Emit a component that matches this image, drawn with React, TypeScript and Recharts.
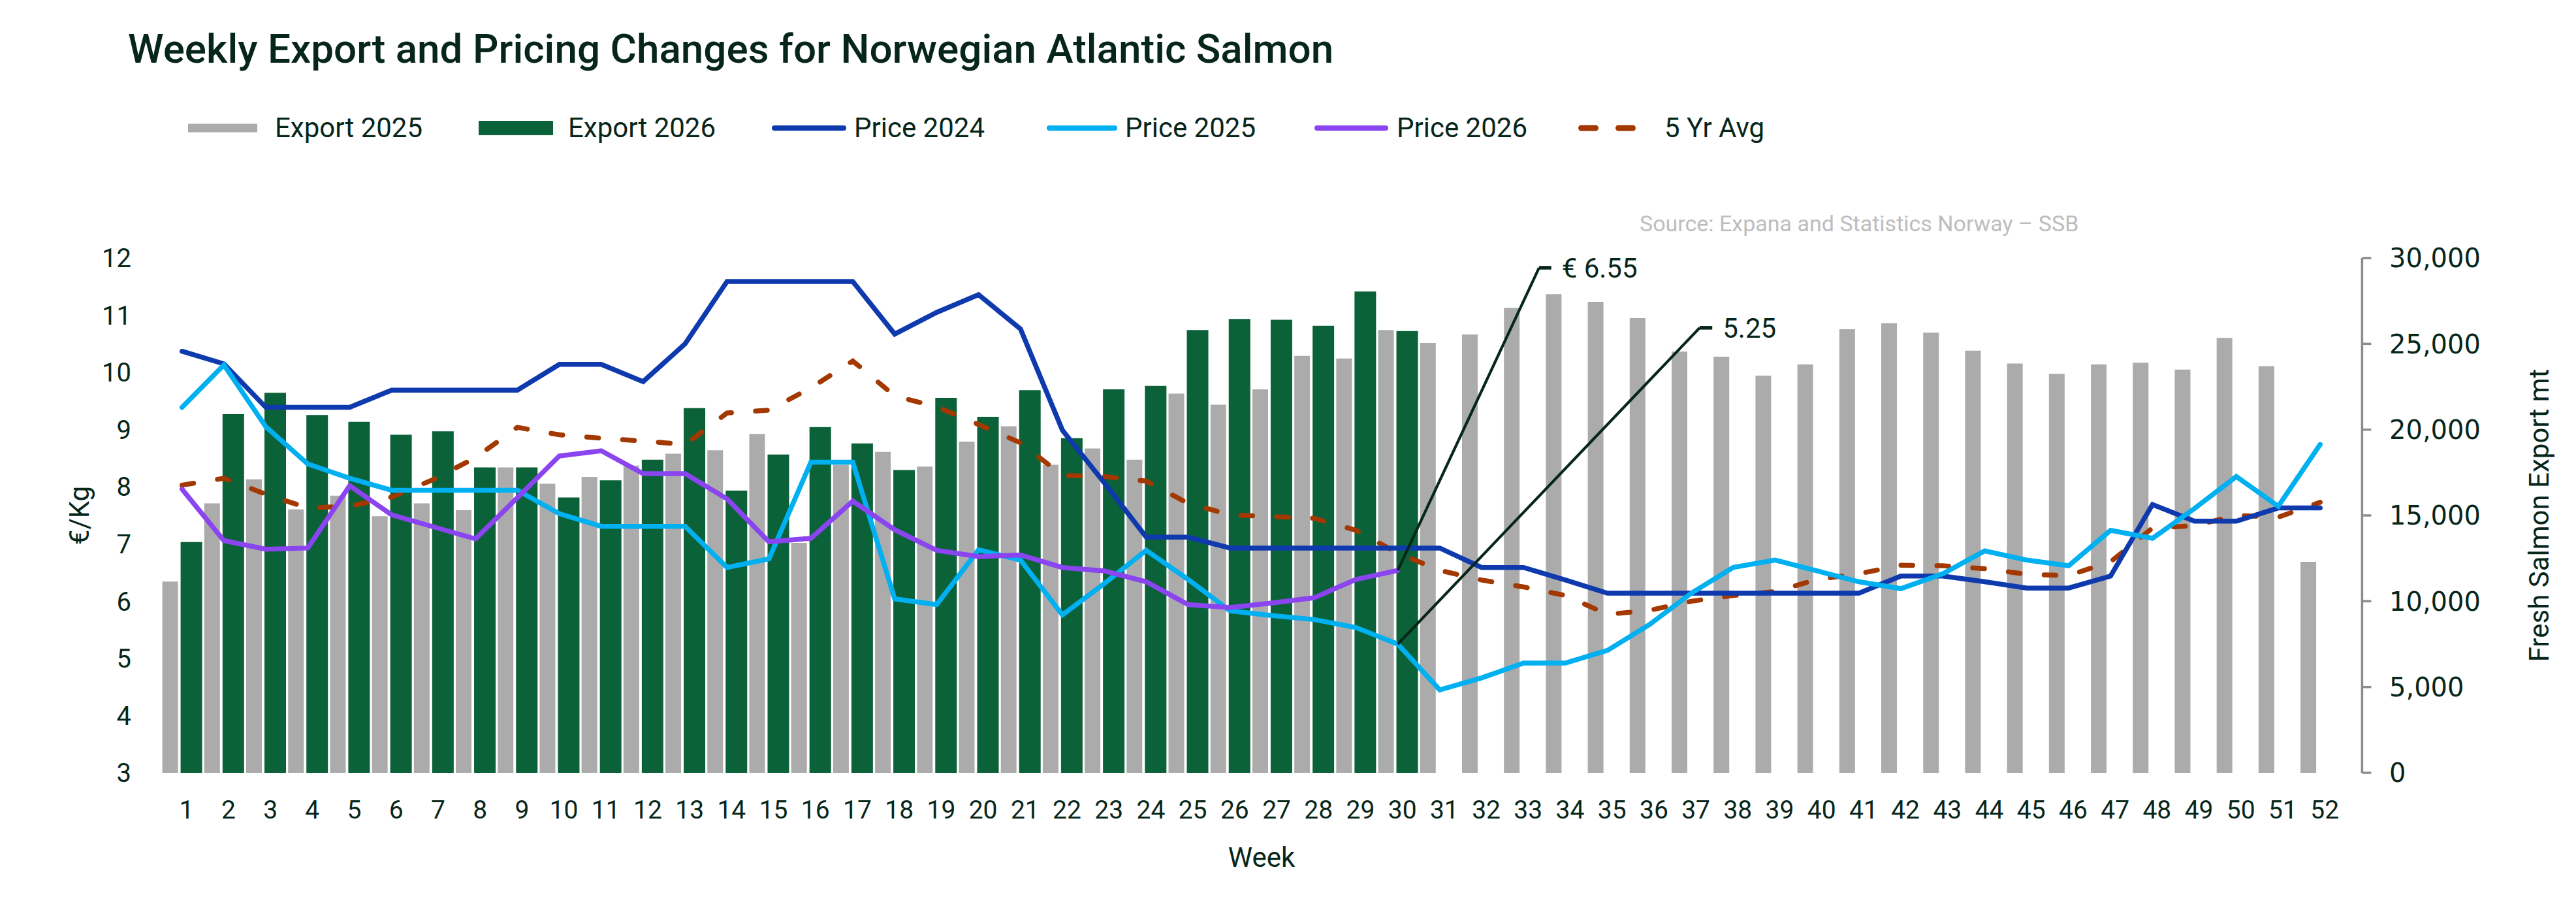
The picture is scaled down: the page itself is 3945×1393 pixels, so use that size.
import React from 'react';
import { ComposedChart, Bar, Line, XAxis, YAxis, ReferenceLine } from 'recharts';

// ---------- data ----------
const weeks = [1, 2, 3, 4, 5, 6, 7, 8, 9, 10, 11, 12, 13, 14, 15, 16, 17, 18, 19, 20, 21, 22, 23, 24, 25, 26,
  27, 28, 29, 30, 31, 32, 33, 34, 35, 36, 37, 38, 39, 40, 41, 42, 43, 44, 45, 46, 47, 48, 49, 50, 51, 52];

const export2025 = [11150, 15700, 17100, 15350, 16150, 14950, 15700, 15300, 17800, 16850, 17250, 17900, 18600,
  18800, 19750, 13400, 17950, 18700, 17850, 19300, 20200, 17950, 18900, 18250, 22100, 21450,
  22350, 24300, 24150, 25800, 25050, 25550, 27100, 27900, 27450, 26500, 24550, 24250, 23150,
  23800, 25850, 26200, 25650, 24600, 23850, 23250, 23800, 23900, 23500, 25350, 23700, 12300];

const export2026 = [13450, 20900, 22150, 20850, 20450, 19700, 19900, 17800, 17800, 16050, 17050, 18250, 21250,
  16450, 18550, 20150, 19200, 17650, 21850, 20750, 22300, 19500, 22350, 22550, 25800, 26450,
  26400, 26050, 28050, 25750];

const price2024 = [10.37, 10.15, 9.39, 9.39, 9.39, 9.69, 9.69, 9.69, 9.69, 10.14, 10.14, 9.84, 10.5,
  11.59, 11.59, 11.59, 11.59, 10.67, 11.05, 11.36, 10.76, 8.99, 8.07, 7.12, 7.12, 6.93,
  6.93, 6.93, 6.93, 6.93, 6.93, 6.59, 6.59, 6.37, 6.14, 6.14, 6.14, 6.14, 6.14,
  6.14, 6.14, 6.44, 6.44, 6.34, 6.23, 6.23, 6.44, 7.69, 7.4, 7.4, 7.63, 7.63];

const price2025 = [9.39, 10.13, 9.05, 8.4, 8.15, 7.94, 7.94, 7.94, 7.94, 7.53, 7.31, 7.31, 7.31,
  6.59, 6.74, 8.43, 8.43, 6.04, 5.94, 6.9, 6.72, 5.76, 6.31, 6.89, 6.38, 5.83,
  5.75, 5.68, 5.54, 5.25, 4.45, 4.66, 4.92, 4.92, 5.14, 5.59, 6.14, 6.59, 6.72,
  6.53, 6.34, 6.22, 6.48, 6.88, 6.72, 6.62, 7.24, 7.1, 7.62, 8.18, 7.66, 8.74];

const price2026 = [7.96, 7.06, 6.91, 6.93, 8.02, 7.51, 7.3, 7.09, 7.81, 8.54, 8.63, 8.23, 8.23,
  7.79, 7.04, 7.1, 7.75, 7.25, 6.89, 6.78, 6.81, 6.59, 6.53, 6.34, 5.94, 5.89,
  5.97, 6.06, 6.38, 6.54];

const fiveYrAvg = [8.03, 8.15, 7.87, 7.63, 7.66, 7.82, 8.13, 8.51, 9.04, 8.91, 8.85, 8.8, 8.74,
  9.29, 9.34, 9.73, 10.2, 9.59, 9.4, 9.09, 8.77, 8.2, 8.18, 8.1, 7.71, 7.51,
  7.48, 7.45, 7.24, 6.84, 6.54, 6.37, 6.25, 6.1, 5.77, 5.84, 6.0, 6.1, 6.17,
  6.38, 6.48, 6.63, 6.62, 6.57, 6.47, 6.45, 6.69, 7.28, 7.32, 7.5, 7.47, 7.73];

const priceTicks = [3, 4, 5, 6, 7, 8, 9, 10, 11, 12];
const exportTicks = [0, 5000, 10000, 15000, 20000, 25000, 30000];

// annotation leaders (data coordinates)
const annotationLabels = ['€ 6.55', '5.25'];
const annotationSeries = [price2026, price2025];
const annotationFromWeek = [30, 30];
const annotationToWeek = [33.37, 37.2];
const annotationTickEndWeek = [33.66, 37.5];
const annotationToValue = [11.83, 10.78];

// ---------- styles ----------
const TEXT = '#07261A';
const GREY = '#ABABAB';
const GREEN = '#0B6138';
const BLUE_DARK = '#0E3AAE';
const BLUE_LIGHT = '#00B0F0';
const PURPLE = '#8A44F0';
const RUST = '#A33800';
const AXIS_GREY = '#8C8C8C';
const LINE_W = 7.5;

const data = weeks.map((w, i) => ({
  week: w,
  export2025: export2025[i] ?? null,
  export2026: export2026[i] ?? null,
  price2024: price2024[i] ?? null,
  price2025: price2025[i] ?? null,
  price2026: price2026[i] ?? null,
  fiveYrAvg: fiveYrAvg[i] ?? null,
}));

const legendItems = [
  { label: 'Export 2025', kind: 'rect', color: GREY, left: 288, width: 106, height: 13, textLeft: 421 },
  { label: 'Export 2026', kind: 'rect', color: GREEN, left: 733, width: 114, height: 22, textLeft: 870 },
  { label: 'Price 2024', kind: 'line', color: BLUE_DARK, left: 1182, width: 114, height: 8, textLeft: 1308 },
  { label: 'Price 2025', kind: 'line', color: BLUE_LIGHT, left: 1603, width: 108, height: 8, textLeft: 1723 },
  { label: 'Price 2026', kind: 'line', color: PURPLE, left: 2013, width: 113, height: 8, textLeft: 2139 },
  { label: '5 Yr Avg', kind: 'dash', color: RUST, left: 2417, width: 122, height: 9, textLeft: 2549 },
];

const Swatch = ({ item }: any) => {
  const h = 40;
  if (item.kind === 'rect') {
    return (
      <svg width={item.width} height={h} style={{ display: 'block' }}>
        <rect x={0} y={(h - item.height) / 2} width={item.width} height={item.height} fill={item.color} />
      </svg>
    );
  }
  const pad = item.height / 2;
  return (
    <svg width={item.width} height={h} style={{ display: 'block' }}>
      <line
        x1={pad}
        x2={item.width - pad}
        y1={h / 2}
        y2={h / 2}
        stroke={item.color}
        strokeWidth={item.height}
        strokeLinecap="round"
        strokeDasharray={item.kind === 'dash' ? '22 35' : undefined}
      />
    </svg>
  );
};

const rotatedTitle = (text: string, dx: number) => (props: any) => {
  const vb = props.viewBox || { x: 0, y: 0, width: 0, height: 0 };
  const cx = vb.x + dx;
  const cy = vb.y + vb.height / 2;
  return (
    <text
      x={cx}
      y={cy}
      transform={`rotate(-90 ${cx} ${cy})`}
      textAnchor="middle"
      dominantBaseline="central"
      fill={TEXT}
      fontSize={42}
      fontFamily="Roboto, 'Liberation Sans', sans-serif"
    >
      {text}
    </text>
  );
};

export default function App() {
  const W = 3945;
  const H = 1393;
  return (
    <div style={{ position: 'absolute', left: 0, top: 0, width: W, height: H, background: '#fff', overflow: 'hidden' }}>
      <div
        style={{
          position: 'absolute',
          left: 196,
          top: 44,
          fontFamily: 'Roboto, sans-serif',
          fontWeight: 500,
          fontSize: 62,
          lineHeight: 1,
          color: TEXT,
          whiteSpace: 'nowrap',
          letterSpacing: 0,
        }}
      >
        Weekly Export and Pricing Changes for Norwegian Atlantic Salmon
      </div>

      {legendItems.map((it) => (
        <React.Fragment key={it.label}>
          <div style={{ position: 'absolute', left: it.left, top: 176 }}>
            <Swatch item={it} />
          </div>
          <div
            style={{
              position: 'absolute',
              left: it.textLeft,
              top: 171,
              height: 50,
              lineHeight: '50px',
              fontFamily: 'Roboto, sans-serif',
              fontSize: 42,
              color: TEXT,
              whiteSpace: 'nowrap',
            }}
          >
            {it.label}
          </div>
        </React.Fragment>
      ))}

      <div
        style={{
          position: 'absolute',
          left: 2511,
          top: 322,
          lineHeight: '40px',
          fontFamily: 'Roboto, sans-serif',
          fontSize: 34,
          color: '#BDBDBD',
          whiteSpace: 'nowrap',
        }}
      >
        Source: Expana and Statistics Norway – SSB
      </div>

      <div style={{ position: 'absolute', left: 0, top: 0 }}>
        <ComposedChart
          width={W}
          height={H}
          data={data}
          margin={{ top: 395, right: 27.6, bottom: 50, left: 46.6 }}
          barGap={4}
        >
          <XAxis
            dataKey="week"
            type="number"
            domain={[0.5, 52.5]}
            ticks={weeks}
            interval={0}
            allowDecimals={false}
            axisLine={false}
            tickLine={false}
            tickSize={6}
            tickMargin={36}
            height={160}
            tick={{ fill: TEXT, fontSize: 39, fontFamily: 'Roboto, sans-serif', dx: 7 }}
            label={{
              value: 'Week',
              position: 'insideBottom',
              offset: 16,
              fill: TEXT,
              fontSize: 42,
              fontFamily: 'Roboto, sans-serif',
            }}
          />
          <YAxis
            yAxisId="left"
            orientation="left"
            domain={[3, 12]}
            ticks={priceTicks}
            interval={0}
            width={200}
            axisLine={false}
            tickLine={false}
            tickSize={6}
            tickMargin={39.6}
            tick={{ fill: TEXT, fontSize: 40, fontFamily: 'Roboto, sans-serif' }}
            label={rotatedTitle('€/Kg', 74.4)}
          />
          <YAxis
            yAxisId="right"
            orientation="right"
            domain={[0, 30000]}
            ticks={exportTicks}
            interval={0}
            width={300}
            axisLine={{ stroke: AXIS_GREY, strokeWidth: 3.5 }}
            tickLine={{ stroke: AXIS_GREY, strokeWidth: 3.5 }}
            tickSize={14}
            tickMargin={27.6}
            tickFormatter={(v: number) => v.toLocaleString('en-US')}
            tick={{ fill: TEXT, fontSize: 40, fontFamily: "'DejaVu Sans', sans-serif" }}
            label={rotatedTitle('Fresh Salmon Export mt', 270.6)}
          />

          <Bar yAxisId="right" dataKey="export2025" fill={GREY} barSize={24} isAnimationActive={false} />
          <Bar yAxisId="right" dataKey="export2026" fill={GREEN} barSize={33} isAnimationActive={false} />

          <Line
            yAxisId="left"
            type="linear"
            dataKey="fiveYrAvg"
            stroke={RUST}
            strokeWidth={LINE_W}
            strokeDasharray="18 37"
            strokeLinecap="round"
            dot={false}
            activeDot={false}
            isAnimationActive={false}
          />
          <Line
            yAxisId="left"
            type="linear"
            dataKey="price2024"
            stroke={BLUE_DARK}
            strokeWidth={LINE_W}
            strokeLinecap="round"
            dot={false}
            activeDot={false}
            isAnimationActive={false}
          />
          <Line
            yAxisId="left"
            type="linear"
            dataKey="price2025"
            stroke={BLUE_LIGHT}
            strokeWidth={LINE_W}
            strokeLinecap="round"
            dot={false}
            activeDot={false}
            isAnimationActive={false}
          />
          <Line
            yAxisId="left"
            type="linear"
            dataKey="price2026"
            stroke={PURPLE}
            strokeWidth={LINE_W}
            strokeLinecap="round"
            dot={false}
            activeDot={false}
            isAnimationActive={false}
          />

          {annotationLabels.map((lab, i) => (
            <ReferenceLine
              key={`lead-${i}`}
              yAxisId="left"
              segment={[
                { x: annotationFromWeek[i], y: annotationSeries[i][annotationFromWeek[i] - 1] },
                { x: annotationToWeek[i], y: annotationToValue[i] },
              ]}
              stroke={TEXT}
              strokeWidth={4.2}
              ifOverflow="visible"
            />
          ))}
          {annotationLabels.map((lab, i) => (
            <ReferenceLine
              key={`tick-${i}`}
              yAxisId="left"
              segment={[
                { x: annotationToWeek[i], y: annotationToValue[i] },
                { x: annotationTickEndWeek[i], y: annotationToValue[i] },
              ]}
              stroke={TEXT}
              strokeWidth={5.5}
              ifOverflow="visible"
              label={{
                value: lab,
                position: 'right',
                offset: 16,
                fill: TEXT,
                fontSize: 42,
                fontFamily: 'Roboto, sans-serif',
              }}
            />
          ))}
        </ComposedChart>
      </div>
    </div>
  );
}
